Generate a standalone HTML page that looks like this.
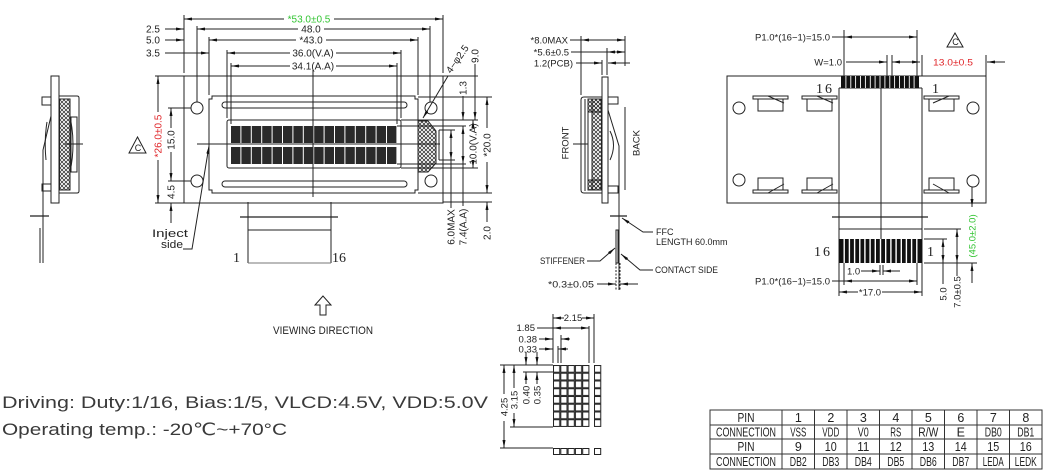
<!DOCTYPE html>
<html><head><meta charset="utf-8"><style>
html,body{margin:0;padding:0;background:#fff;}
svg{display:block;}
text{font-family:"Liberation Sans","DejaVu Sans",sans-serif;fill:#222;stroke:none;}
.s{font-family:"Liberation Serif","DejaVu Serif",serif;}
</style></head><body>
<svg width="1045" height="476" viewBox="0 0 1045 476" xmlns="http://www.w3.org/2000/svg">
<defs>
<marker id="a" viewBox="0 0 8 3" refX="8" refY="1.5" markerWidth="8" markerHeight="3" markerUnits="userSpaceOnUse" orient="auto-start-reverse"><path d="M0,0L8,1.5L0,3z" fill="#111"/></marker>
<pattern id="xh" width="4" height="4" patternUnits="userSpaceOnUse"><path d="M0,0L4,4M4,0L0,4" stroke="#222" stroke-width="0.7"/></pattern>
<pattern id="cg" x="553" y="365" width="7.3" height="7.75" patternUnits="userSpaceOnUse"><rect x="0.5" y="0.5" width="6.2" height="6.7" fill="none" stroke="#222" stroke-width="1"/></pattern>
<pattern id="cg2" x="594" y="365" width="7.3" height="7.75" patternUnits="userSpaceOnUse"><rect x="0.5" y="0.5" width="6.2" height="6.7" fill="none" stroke="#222" stroke-width="1"/></pattern>
</defs>
<rect width="1045" height="476" fill="#fff"/>

<!-- ================= MAIN FRONT VIEW ================= -->
<g fill="none" stroke="#222" stroke-width="1">
<rect x="184" y="76" width="259" height="127"/>
<path d="M212,96 H415 V99 H418 V190 H415 V193 H212 V190 H209 V99 H212 Z"/>
<circle cx="197" cy="108" r="6"/><circle cx="197" cy="181" r="6"/>
<circle cx="431" cy="108" r="6"/><circle cx="431" cy="181" r="6"/>
<rect x="222" y="102" width="185" height="6" rx="3"/>
<rect x="222" y="181" width="185" height="6" rx="3"/>
<rect x="227" y="120" width="174" height="48" rx="2"/>
<path d="M418,121 H428 L436,131 V163 L428,172 H418 Z" fill="url(#xh)"/>
<path d="M197,144 H440 M313,70 V197"/>
<path d="M184,15 V73 M443,15 V73 M197,26 V102 M430,26 V102 M209,37 V95 M418,37 V95 M227,50 V118 M401,50 V118 M231,63 V124 M397,63 V124"/>
<path d="M184,19 H284" marker-start="url(#a)"/><path d="M334,19 H443" marker-end="url(#a)"/>
<path d="M165,29 H184" marker-end="url(#a)"/>
<path d="M197,29 H298" marker-start="url(#a)"/><path d="M324,29 H430" marker-end="url(#a)"/>
<path d="M165,40 H184" marker-end="url(#a)"/>
<path d="M209,40 H296" marker-start="url(#a)"/><path d="M326,40 H418" marker-end="url(#a)"/>
<path d="M165,53 H209" marker-end="url(#a)"/>
<path d="M227,53 H290" marker-start="url(#a)"/><path d="M336,53 H401" marker-end="url(#a)"/>
<path d="M231,66 H290" marker-start="url(#a)"/><path d="M336,66 H397" marker-end="url(#a)"/>
<path d="M155,76 H184 M155,203 H184 M168,108 H191 M168,181 H191"/>
<path d="M158,76 V112" marker-start="url(#a)"/><path d="M158,160 V203" marker-end="url(#a)"/>
<path d="M171,108 V128" marker-start="url(#a)"/><path d="M171,152 V181" marker-end="url(#a)"/>
<path d="M171,223 V203" marker-end="url(#a)"/>
<path d="M137.5,137 L129,153 H146 Z"/>
<path d="M183,249 H192 L209,146" marker-end="url(#a)"/>
<path d="M248,202 V263 M331,202 V263 M248,230 H331"/>
<path d="M240,217 H338" stroke-width="1.3"/>
<path d="M248,263 H331" stroke="#777"/>
<path d="M418,97 H492 M401,120 H478 M397,126 H466 M439,130 H455 M439,160 H455 M439,130 V160 M397,164 H466 M401,168 H478 M418,193 H492 M443,202 H492 M443,76 H478"/>
<path d="M475,64 V120" marker-end="url(#a)"/>
<path d="M463,96 V120" marker-end="url(#a)"/>
<path d="M473,120 V128" marker-start="url(#a)"/><path d="M473,160 V168" marker-end="url(#a)"/>
<path d="M487,97 V128" marker-start="url(#a)"/><path d="M487,162 V193" marker-end="url(#a)"/>
<path d="M487,222 V202" marker-end="url(#a)"/>
<path d="M451,130 V160" marker-start="url(#a)" marker-end="url(#a)"/><path d="M451,160 V208"/>
<path d="M463,126 V164" marker-start="url(#a)" marker-end="url(#a)"/><path d="M463,164 V206"/>
<path d="M448,76 L423,118" marker-end="url(#a)"/>
<path d="M323,296 L315,305 H320 V315 H326 V305 H331 Z"/>
</g>
<g fill="#2a2a2a">
<rect x="231" y="126" width="9.4" height="17"/><rect x="241.4" y="126" width="9.4" height="17"/><rect x="251.8" y="126" width="9.4" height="17"/><rect x="262.2" y="126" width="9.4" height="17"/><rect x="272.6" y="126" width="9.4" height="17"/><rect x="283" y="126" width="9.4" height="17"/><rect x="293.4" y="126" width="9.4" height="17"/><rect x="303.8" y="126" width="9.4" height="17"/><rect x="314.2" y="126" width="9.4" height="17"/><rect x="324.6" y="126" width="9.4" height="17"/><rect x="335" y="126" width="9.4" height="17"/><rect x="345.4" y="126" width="9.4" height="17"/><rect x="355.8" y="126" width="9.4" height="17"/><rect x="366.2" y="126" width="9.4" height="17"/><rect x="376.6" y="126" width="9.4" height="17"/><rect x="387" y="126" width="9.4" height="17"/>
<rect x="231" y="147" width="9.4" height="17"/><rect x="241.4" y="147" width="9.4" height="17"/><rect x="251.8" y="147" width="9.4" height="17"/><rect x="262.2" y="147" width="9.4" height="17"/><rect x="272.6" y="147" width="9.4" height="17"/><rect x="283" y="147" width="9.4" height="17"/><rect x="293.4" y="147" width="9.4" height="17"/><rect x="303.8" y="147" width="9.4" height="17"/><rect x="314.2" y="147" width="9.4" height="17"/><rect x="324.6" y="147" width="9.4" height="17"/><rect x="335" y="147" width="9.4" height="17"/><rect x="345.4" y="147" width="9.4" height="17"/><rect x="355.8" y="147" width="9.4" height="17"/><rect x="366.2" y="147" width="9.4" height="17"/><rect x="376.6" y="147" width="9.4" height="17"/><rect x="387" y="147" width="9.4" height="17"/>
</g>
<g font-size="10">
<text x="309" y="22.5" text-anchor="middle" style="fill:#33c433">*53.0±0.5</text>
<text x="311" y="32.5" text-anchor="middle">48.0</text>
<text x="311" y="43.5" text-anchor="middle">*43.0</text>
<text x="313" y="56.5" text-anchor="middle">36.0(V.A)</text>
<text x="313" y="69.5" text-anchor="middle">34.1(A.A)</text>
<text x="146" y="32.5">2.5</text>
<text x="146" y="43.5">5.0</text>
<text x="146" y="56.5">3.5</text>
<text transform="translate(161.5,136) rotate(-90)" text-anchor="middle" style="fill:#e0262a">*26.0±0.5</text>
<text transform="translate(174.5,140) rotate(-90)" text-anchor="middle">15.0</text>
<text transform="translate(174.5,192) rotate(-90)" text-anchor="middle">4.5</text>
<text x="138" y="151" text-anchor="middle" font-size="9">C</text>
<text x="152" y="237" font-size="11" textLength="36" lengthAdjust="spacingAndGlyphs">Inject</text>
<text x="161" y="248" font-size="11" textLength="22" lengthAdjust="spacingAndGlyphs">side</text>
<text transform="translate(478.5,56) rotate(-90)" text-anchor="middle">9.0</text>
<text transform="translate(466.5,88) rotate(-90)" text-anchor="middle">1.3</text>
<text transform="translate(476.5,144) rotate(-90)" text-anchor="middle">10.0(V.A)</text>
<text transform="translate(490.5,145) rotate(-90)" text-anchor="middle">*20.0</text>
<text transform="translate(490.5,233) rotate(-90)" text-anchor="middle">2.0</text>
<text transform="translate(454.5,227) rotate(-90)" text-anchor="middle">6.0MAX</text>
<text transform="translate(466.5,227) rotate(-90)" text-anchor="middle">7.4(A.A)</text>
<text transform="translate(451,74) rotate(-55)">4−φ2.5</text>
<text class="s" x="233" y="262" font-size="14">1</text>
<text class="s" x="332" y="262" font-size="14">16</text>
<text x="273" y="334" font-size="11" textLength="100" lengthAdjust="spacingAndGlyphs">VIEWING  DIRECTION</text>
</g>

<!-- ================= LEFT SIDE VIEW ================= -->
<g fill="none" stroke="#222" stroke-width="1">
<rect x="51" y="76" width="8" height="127"/>
<rect x="42" y="97" width="9" height="8"/>
<rect x="42" y="184" width="9" height="7"/>
<path d="M59,96 H77 Q79,96 79,98 V191 Q79,193 77,193 H59"/>
<rect x="59.5" y="99" width="10.5" height="91" fill="url(#xh)"/>
<rect x="71" y="117" width="6" height="55"/>
<path d="M70,117 Q76,144 70,172"/>
<path d="M65,144 H83"/>
<path d="M51,116 L43,150 V263"/>
<path d="M47,122 Q44,140 46,160"/>
<path d="M40,228 V263"/>
<path d="M30,216 H49" stroke-width="1.3"/>
</g>

<!-- ================= MIDDLE SIDE VIEW ================= -->
<g fill="none" stroke="#222" stroke-width="1">
<rect x="602" y="77" width="6" height="126"/>
<path d="M602,97 H584 Q581,97 581,100 V190 Q581,193 584,193 H602"/>
<path d="M585,99 V191 M588,112 V180"/>
<rect x="592" y="99" width="9.5" height="91" fill="url(#xh)"/>
<rect x="588" y="99" width="13" height="13" fill="url(#xh)"/>
<rect x="588" y="180" width="13" height="10" fill="url(#xh)"/>
<path d="M573,144 H588"/>
<rect x="608" y="97" width="10" height="7"/>
<rect x="608" y="186" width="10" height="7"/>
<path d="M608,110 L619,146 V290"/>
<path d="M610,131 Q617,145 610,160"/>
<path d="M625,107 V190"/>
<path d="M581,36 V95 M625,36 V66 M607,48 V75 M602,60 V75"/>
<path d="M570,40 H581"/><path d="M581,40 H625" marker-start="url(#a)" marker-end="url(#a)"/>
<path d="M571,52 H607"/><path d="M607,52 H625" marker-start="url(#a)" marker-end="url(#a)"/>
<path d="M576,63 H602" marker-end="url(#a)"/><path d="M630,63 H608" marker-end="url(#a)"/>
<path d="M610,216 H627" stroke-width="1.3"/>
<rect x="616" y="230" width="2" height="33"/>
<path d="M653,232 H643 L622,218" marker-end="url(#a)"/>
<path d="M587,261 H600 L615,248" marker-end="url(#a)"/>
<path d="M653,270 H640 L621,254" marker-end="url(#a)"/>
<path d="M597,284 H616" marker-end="url(#a)"/><path d="M638,284 H620" marker-end="url(#a)"/>
<path d="M616,263 V290 M620,263 V290" stroke-dasharray="2,1.5"/>
</g>
<g font-size="9.5">
<text x="568" y="43.5" text-anchor="end">*8.0MAX</text>
<text x="569" y="55.5" text-anchor="end">*5.6±0.5</text>
<text x="573" y="66.5" text-anchor="end">1.2(PCB)</text>
<text transform="translate(568.5,143) rotate(-90)" text-anchor="middle">FRONT</text>
<text transform="translate(639.5,143) rotate(-90)" text-anchor="middle">BACK</text>
<text x="656" y="235" font-size="9">FFC</text>
<text x="656" y="245" font-size="9">LENGTH 60.0mm</text>
<text x="540" y="264" font-size="9" textLength="45" lengthAdjust="spacingAndGlyphs">STIFFENER</text>
<text x="655" y="273" font-size="9" textLength="63" lengthAdjust="spacingAndGlyphs">CONTACT SIDE</text>
<text x="548" y="287.5" font-size="9.5" textLength="46" lengthAdjust="spacingAndGlyphs">*0.3±0.05</text>
</g>

<!-- ================= RIGHT BACK VIEW ================= -->
<g fill="none" stroke="#222" stroke-width="1">
<rect x="727" y="76" width="259" height="127"/>
<circle cx="739" cy="108" r="6"/><circle cx="973" cy="108" r="6"/>
<circle cx="739" cy="180" r="6"/><circle cx="973" cy="181" r="6"/>
<rect x="753" y="96" width="35" height="3"/><path d="M758,99 V111 H783 V99 M768,96 L784,103"/>
<rect x="802" y="96" width="35" height="3"/><path d="M807,99 V111 H832 V99 M817,96 L833,103"/>
<rect x="924" y="96" width="35" height="3"/><path d="M929,99 V111 H954 V99 M949,96 L933,103"/>
<rect x="753" y="190" width="35" height="3"/><path d="M758,190 V178 H783 V190 M768,193 L784,184"/>
<rect x="802" y="190" width="35" height="3"/><path d="M807,190 V178 H832 V190 M817,193 L833,184"/>
<rect x="924" y="190" width="35" height="3"/><path d="M929,190 V178 H954 V190 M949,193 L933,184"/>
<path d="M839,88 V263 M922,88 V263 M881,88 V239 M839,88 H922 M839,229 H922"/>
<path d="M832,217 H928" stroke-width="1.3"/>
</g>
<rect x="841" y="76" width="78" height="12" fill="#111"/>
<g stroke="#fff" stroke-width="0.9">
<path d="M845.9,76V88M850.8,76V88M855.6,76V88M860.5,76V88M865.4,76V88M870.3,76V88M875.1,76V88M880,76V88M884.9,76V88M889.8,76V88M894.6,76V88M899.5,76V88M904.4,76V88M909.3,76V88M914.1,76V88"/>
</g>
<rect x="839" y="239" width="83" height="24" fill="#111"/>
<g stroke="#fff" stroke-width="1.4">
<path d="M844.2,239V263M849.4,239V263M854.6,239V263M859.8,239V263M864.9,239V263M870.1,239V263M875.3,239V263M880.5,239V263M885.7,239V263M890.9,239V263M896.1,239V263M901.3,239V263M906.4,239V263M911.6,239V263M916.8,239V263"/>
</g>
<g fill="none" stroke="#222" stroke-width="1">
<path d="M844,30 V76 M917,30 V76 M887,55 V76 M892,55 V76 M922,55 V76 M986,55 V76"/>
<path d="M832,37 H844"/><path d="M844,37 H917" marker-start="url(#a)" marker-end="url(#a)"/>
<path d="M846,62 H887" marker-end="url(#a)"/>
<path d="M892,62 H920" marker-start="url(#a)" marker-end="url(#a)"/>
<path d="M1005,62 H987" marker-end="url(#a)"/>
<path d="M955,33 L947,47 H963 Z"/>
<path d="M839,263 V296 M922,263 V296 M844,263 V285 M917,263 V285 M880,265 V275 M883,265 V275"/>
<path d="M861,271 H880" marker-end="url(#a)"/><path d="M900,271 H883" marker-end="url(#a)"/>
<path d="M832,281 H844"/><path d="M844,281 H917" marker-start="url(#a)" marker-end="url(#a)"/>
<path d="M839,292 H858" marker-start="url(#a)"/><path d="M882,292 H922" marker-end="url(#a)"/>
<path d="M924,229 H961 M924,239 H947 M924,263 H977"/>
<path d="M943,239 V263" marker-start="url(#a)" marker-end="url(#a)"/><path d="M943,263 V284"/>
<path d="M957,229 V263" marker-start="url(#a)" marker-end="url(#a)"/><path d="M957,263 V276"/>
<path d="M972,187 V207" marker-end="url(#a)"/>
<path d="M972,283 V263" marker-end="url(#a)"/>
</g>
<g font-size="9.5">
<text class="s" x="816" y="93" font-size="14" letter-spacing="2">16</text>
<text class="s" x="932" y="93" font-size="14">1</text>
<text class="s" x="814" y="256" font-size="14" letter-spacing="2">16</text>
<text class="s" x="927" y="256" font-size="14">1</text>
<text x="830" y="40.5" text-anchor="end">P1.0*(16−1)=15.0</text>
<text x="842" y="65.5" text-anchor="end">W=1.0</text>
<text x="933" y="65.5" style="fill:#e0262a" textLength="40" lengthAdjust="spacingAndGlyphs">13.0±0.5</text>
<text x="955.5" y="45" text-anchor="middle" font-size="9">C</text>
<text x="847" y="274.5">1.0</text>
<text x="830" y="284.5" text-anchor="end">P1.0*(16−1)=15.0</text>
<text x="870" y="295.5" text-anchor="middle">*17.0</text>
<text transform="translate(946.5,294) rotate(-90)" text-anchor="middle">5.0</text>
<text transform="translate(960.5,292) rotate(-90)" text-anchor="middle">7.0±0.5</text>
<text transform="translate(975.5,236) rotate(-90)" text-anchor="middle" style="fill:#33c433">(45.0±2.0)</text>
</g>

<!-- ================= CHARACTER DETAIL ================= -->
<rect x="553" y="365" width="36.5" height="62" fill="url(#cg)"/>
<rect x="594" y="365" width="7.3" height="62" fill="url(#cg2)"/>
<g fill="none" stroke="#222" stroke-width="1">
<rect x="553.5" y="448.5" width="6.2" height="6"/><rect x="560.8" y="448.5" width="6.2" height="6"/><rect x="568.1" y="448.5" width="6.2" height="6"/><rect x="575.4" y="448.5" width="6.2" height="6"/><rect x="582.7" y="448.5" width="6.2" height="6"/><rect x="594.5" y="448.5" width="6.2" height="6"/>
<path d="M553,314 V363 M589,326 V363 M594,314 V363 M561,335 V363 M558,346 V363"/>
<path d="M553,318 H564" marker-start="url(#a)"/><path d="M582,318 H594" marker-end="url(#a)"/>
<path d="M537,328 H553"/><path d="M553,328 H589" marker-start="url(#a)" marker-end="url(#a)"/>
<path d="M539,339 H553" marker-end="url(#a)"/><path d="M570,339 H561" marker-end="url(#a)"/>
<path d="M539,349 H553" marker-end="url(#a)"/><path d="M568,349 H558" marker-end="url(#a)"/>
<path d="M500,365 H553 M510,427 H553 M500,448 H553 M523,372 H553"/>
<path d="M504,365 V394" marker-start="url(#a)"/><path d="M504,421 V448" marker-end="url(#a)"/>
<path d="M514,365 V388" marker-start="url(#a)"/><path d="M514,413 V427" marker-end="url(#a)"/>
<path d="M526,352 V365" marker-end="url(#a)"/><path d="M526,384 V372" marker-end="url(#a)"/>
<path d="M537,352 V365" marker-end="url(#a)"/><path d="M537,384 V372" marker-end="url(#a)"/>
</g>
<g font-size="9.5">
<text x="573" y="321" text-anchor="middle">2.15</text>
<text x="535" y="331" text-anchor="end">1.85</text>
<text x="537" y="342.5" text-anchor="end">0.38</text>
<text x="537" y="352.5" text-anchor="end">0.33</text>
<text transform="translate(507.5,407) rotate(-90)" text-anchor="middle">4.25</text>
<text transform="translate(517.5,400) rotate(-90)" text-anchor="middle">3.15</text>
<text transform="translate(529.5,395) rotate(-90)" text-anchor="middle">0.40</text>
<text transform="translate(540.5,395) rotate(-90)" text-anchor="middle">0.35</text>
</g>

<!-- ================= NOTES ================= -->
<text x="2" y="408" font-size="17" textLength="486" lengthAdjust="spacingAndGlyphs" style="fill:#3a3a3a">Driving: Duty:1/16, Bias:1/5, VLCD:4.5V, VDD:5.0V</text>
<text x="2" y="435" font-size="17" textLength="285" lengthAdjust="spacingAndGlyphs" style="fill:#3a3a3a">Operating temp.: -20℃~+70°C</text>

<!-- ================= PIN TABLE ================= -->
<g fill="none" stroke="#333" stroke-width="1">
<rect x="710" y="410" width="332" height="59"/>
<path d="M710,425 H1042 M710,439 H1042 M710,454 H1042"/>
<path d="M782,410 V469 M814.5,410 V469 M847,410 V469 M879.5,410 V469 M912,410 V469 M944.5,410 V469 M977,410 V469 M1009.5,410 V469"/>
</g>
<g font-size="12.5" text-anchor="middle">
<text x="746" y="422" textLength="17" lengthAdjust="spacingAndGlyphs">PIN</text>
<text x="746" y="436.5" textLength="60" lengthAdjust="spacingAndGlyphs">CONNECTION</text>
<text x="746" y="451" textLength="17" lengthAdjust="spacingAndGlyphs">PIN</text>
<text x="746" y="466" textLength="60" lengthAdjust="spacingAndGlyphs">CONNECTION</text>
<text x="798.3" y="422">1</text><text x="830.8" y="422">2</text><text x="863.3" y="422">3</text><text x="895.8" y="422">4</text><text x="928.3" y="422">5</text><text x="960.8" y="422">6</text><text x="993.3" y="422">7</text><text x="1025.8" y="422">8</text>
<text x="798.3" y="436.5" textLength="16" lengthAdjust="spacingAndGlyphs">VSS</text><text x="830.8" y="436.5" textLength="17" lengthAdjust="spacingAndGlyphs">VDD</text><text x="863.3" y="436.5" textLength="11" lengthAdjust="spacingAndGlyphs">V0</text><text x="895.8" y="436.5" textLength="11" lengthAdjust="spacingAndGlyphs">RS</text><text x="928.3" y="436.5" textLength="20" lengthAdjust="spacingAndGlyphs">R/W</text><text x="960.8" y="436.5">E</text><text x="993.3" y="436.5" textLength="17" lengthAdjust="spacingAndGlyphs">DB0</text><text x="1025.8" y="436.5" textLength="17" lengthAdjust="spacingAndGlyphs">DB1</text>
<text x="798.3" y="451">9</text><text x="830.8" y="451" textLength="12" lengthAdjust="spacingAndGlyphs">10</text><text x="863.3" y="451" textLength="12" lengthAdjust="spacingAndGlyphs">11</text><text x="895.8" y="451" textLength="12" lengthAdjust="spacingAndGlyphs">12</text><text x="928.3" y="451" textLength="12" lengthAdjust="spacingAndGlyphs">13</text><text x="960.8" y="451" textLength="12" lengthAdjust="spacingAndGlyphs">14</text><text x="993.3" y="451" textLength="12" lengthAdjust="spacingAndGlyphs">15</text><text x="1025.8" y="451" textLength="12" lengthAdjust="spacingAndGlyphs">16</text>
<text x="798.3" y="466" textLength="17" lengthAdjust="spacingAndGlyphs">DB2</text><text x="830.8" y="466" textLength="17" lengthAdjust="spacingAndGlyphs">DB3</text><text x="863.3" y="466" textLength="17" lengthAdjust="spacingAndGlyphs">DB4</text><text x="895.8" y="466" textLength="17" lengthAdjust="spacingAndGlyphs">DB5</text><text x="928.3" y="466" textLength="17" lengthAdjust="spacingAndGlyphs">DB6</text><text x="960.8" y="466" textLength="17" lengthAdjust="spacingAndGlyphs">DB7</text><text x="993.3" y="466" textLength="21" lengthAdjust="spacingAndGlyphs">LEDA</text><text x="1025.8" y="466" textLength="22" lengthAdjust="spacingAndGlyphs">LEDK</text>
</g>
</svg>
</body></html>
